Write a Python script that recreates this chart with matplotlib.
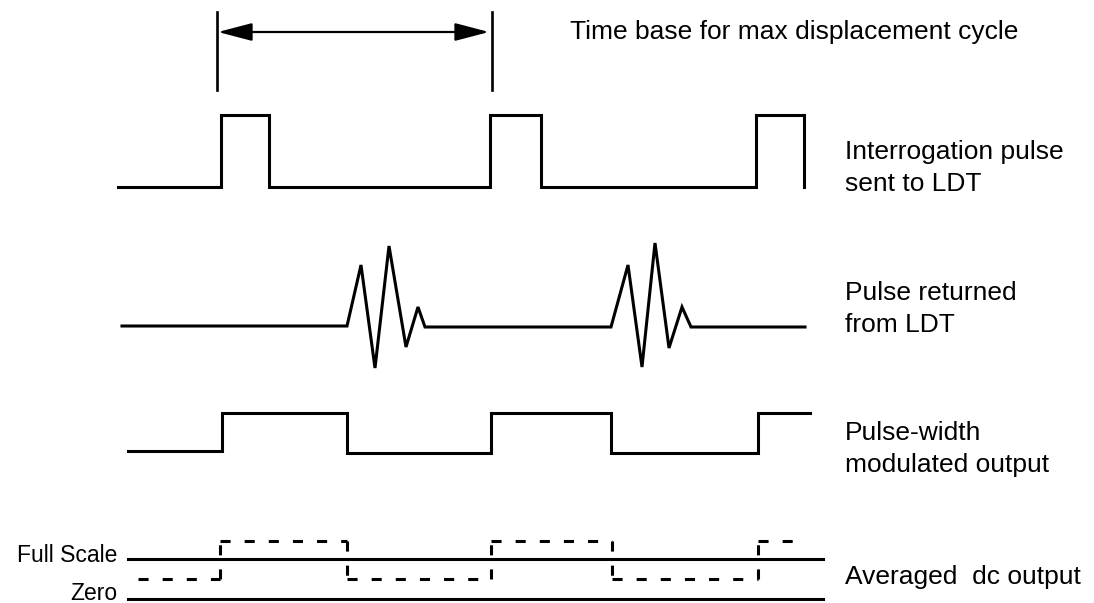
import matplotlib
matplotlib.use("Agg")
import matplotlib.pyplot as plt

plt.rcParams['font.family'] = ['Liberation Sans', 'DejaVu Sans']

# Time-base marker
timebase_x = [217, 492]
timebase_label = "Time base for max displacement cycle"

# Interrogation pulse (x of transitions, level)
interrog_x = [118, 221, 221, 269, 269, 490, 490, 541, 541, 756, 756, 804, 804]
interrog_y = [187, 187, 115, 115, 187, 187, 115, 115, 187, 187, 115, 115, 187]

# Pulse returned from LDT
returned_x = [122, 347, 361, 375, 389, 406, 418, 425, 611, 628, 642, 655, 669, 682, 691, 805]
returned_y = [326, 326, 265, 368, 246, 347, 307, 327, 327, 265, 367, 243, 348, 307, 327, 327]

# Pulse-width modulated output
pwm_x = [128, 222, 222, 347, 347, 491, 491, 611, 611, 758, 758, 810]
pwm_y = [451, 451, 413, 413, 453, 453, 413, 413, 453, 453, 413, 413]

# Averaged dc output (dashed)
avg_x = [138, 220, 220, 347, 347, 491, 491, 612, 612, 758, 758, 793]
avg_y = [579, 579, 541, 541, 579, 579, 541, 541, 579, 579, 541, 541]

full_scale_y = 559
zero_y = 599
ref_x = [128, 823]

labels = [
    ("Interrogation pulse\nsent to LDT", 168),
    ("Pulse returned\nfrom LDT", 309),
    ("Pulse-width\nmodulated output", 449),
    ("Averaged  dc output", 577),
]

fig = plt.figure(figsize=(10.94, 6.03), dpi=100)
ax = fig.add_axes([0, 0, 1, 1])
ax.set_xlim(0, 1094)
ax.set_ylim(603, 0)
ax.axis('off')

lw = 2.2
col = 'black'

# time base markers and arrow
for x in timebase_x:
    ax.plot([x, x], [12, 90], color=col, lw=1.9)
ax.annotate('', xy=(timebase_x[0] + 1, 32), xytext=(timebase_x[1] - 3, 32),
            arrowprops=dict(arrowstyle='<|-|>,head_length=2.1,head_width=0.55',
                            color=col, lw=1.6, shrinkA=0, shrinkB=0))
ax.text(570, 32, timebase_label, fontsize=19, va='center', ha='left')

ax.plot(interrog_x, interrog_y, color=col, lw=lw, solid_joinstyle='miter')
ax.plot(returned_x, returned_y, color=col, lw=lw, solid_joinstyle='miter')
ax.plot(pwm_x, pwm_y, color=col, lw=lw, solid_joinstyle='miter')

# dashed averaged output: each segment dashed separately so transitions show
for i in range(len(avg_x) - 1):
    ax.plot(avg_x[i:i + 2], avg_y[i:i + 2], color=col, lw=2.2,
            linestyle=(0, (3.3, 4.6)), dash_capstyle='butt')

ax.plot(ref_x, [full_scale_y, full_scale_y], color=col, lw=lw)
ax.plot(ref_x, [zero_y, zero_y], color=col, lw=lw)

ax.text(117, 555, "Full Scale", fontsize=16.5, ha='right', va='center')
ax.text(117, 593, "Zero", fontsize=16.5, ha='right', va='center')

for txt, y in labels:
    ax.text(845, y, txt, fontsize=19, ha='left', va='center', linespacing=1.45)

fig.savefig('out.png', dpi=100)
